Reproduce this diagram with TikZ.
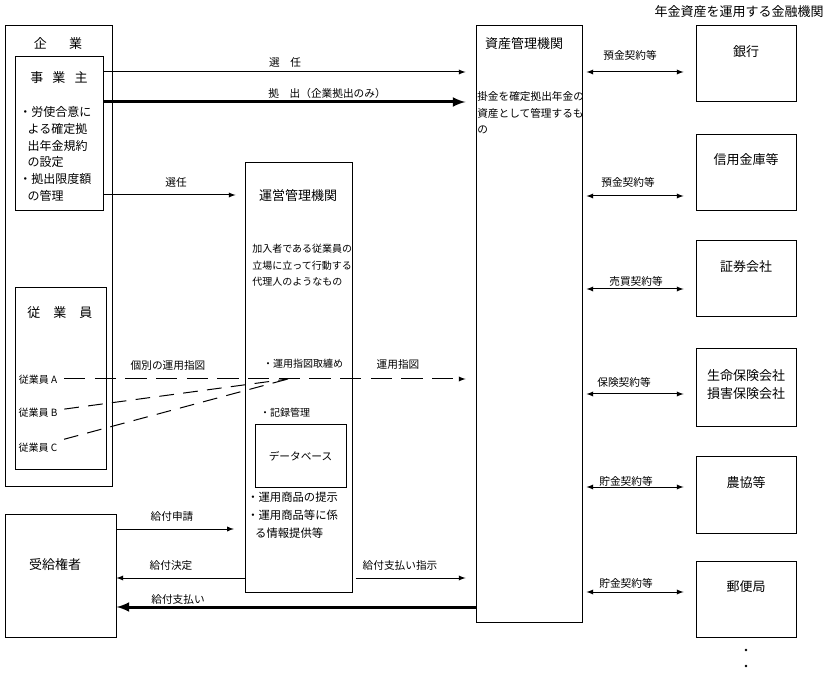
\documentclass[tikz,border=0pt]{standalone}
\usepackage{fontspec}
\setmainfont{Noto Sans CJK JP}
\usetikzlibrary{shapes,arrows,positioning,calc}

\begin{document}
\begin{tikzpicture}[x=0.75pt, y=-0.75pt,
    box/.style={rectangle, draw=black, line width=0.75pt, inner sep=0pt},
    head/.style={font=\fontsize{9.75}{13.5}\selectfont, inner sep=0pt, align=center},
    body/.style={font=\fontsize{9}{12.6}\selectfont, align=left, inner sep=0pt},
    smallbody/.style={font=\fontsize{7.5}{12.4}\selectfont, align=left, inner sep=0pt},
    lbl/.style={font=\fontsize{8}{10}\selectfont, inner sep=0pt},
    arrow/.style={->, >=latex, line width=0.75pt},
    fatarrow/.style={->, >=latex, line width=2.25pt},
    twoway/.style={<->, >=latex, line width=0.75pt},
    longdash/.style={dash pattern=on 16pt off 7pt, line width=0.75pt},
    shortdash/.style={dash pattern=on 11pt off 7pt, line width=0.75pt}]

\useasboundingbox (0,0) rectangle (829,677);

% Company with employer and employees
\node[box, minimum width=80.25pt, minimum height=345pt] (corp) at (58.5,256) {};
\node[head] (corptitle) at (58,44) {企\hspace{1.7em}業};
\node[box, minimum width=66pt, minimum height=115.5pt] (owner) at (59,134) {};
\node[head] (ownertitle) at (59,78) {事\hspace{0.7em}業\hspace{0.7em}主};
\node[body, anchor=west] (ownertxt) at (19,154) {
    ・労使合意に\\
    \hspace{0.7em}よる確定拠\\
    \hspace{0.7em}出年金規約\\
    \hspace{0.7em}の設定\\
    ・拠出限度額\\
    \hspace{0.7em}の管理
};
\node[box, minimum width=68.25pt, minimum height=136.5pt] (staff) at (60.5,379) {};
\node[head] (stafftitle) at (60,313) {従\hspace{1em}業\hspace{1em}員};
\node[smallbody] (empA) at (38,380) {従業員 A};
\node[smallbody] (empB) at (38,413) {従業員 B};
\node[smallbody] (empC) at (38,448) {従業員 C};

% Record keeper
\node[box, minimum width=80.25pt, minimum height=321.75pt] (admin) at (298.5,377.5) {};
\node[head] (admintitle) at (298,196) {運営管理機関};
\node[smallbody, anchor=west] (admintxt) at (252,265.5) {
    加入者である従業員の\\
    立場に立って行動する\\
    代理人のようなもの
};
\node[smallbody] (collect) at (303,364) {・運用指図取纏め};
\node[smallbody] (records) at (285,413) {・記録管理};
\node[box, minimum width=68.25pt, minimum height=46.5pt, font=\fontsize{8}{10}\selectfont] (db) at (300.5,456) {データベース};
\node[body, anchor=west, font=\fontsize{8.5}{13.5}\selectfont] (info) at (247,515) {
    ・運用商品の提示\\
    ・運用商品等に係\\
    \hspace{0.7em}る情報提供等
};

% Asset custodian
\node[box, minimum width=79.5pt, minimum height=447pt] (custody) at (529,324) {};
\node[head] (custodytitle) at (524,44) {資産管理機関};
\node[smallbody, anchor=west, font=\fontsize{8}{12.4}\selectfont] (custodytxt) at (477,113) {
    掛金を確定拠出年金の\\
    資産として管理するも\\
    の
};

% Beneficiary
\node[box, minimum width=83.25pt, minimum height=92.25pt] (benef) at (60.5,575.5) {};
\node[head] (beneftitle) at (55,565) {受給権者};

% Financial institutions
\node[head] (fintitle) at (739,12) {年金資産を運用する金融機関};
\node[box, minimum width=75pt, minimum height=57pt] (bank) at (746,64) {};
\node[head] at (746,52) {銀行};
\node[box, minimum width=75pt, minimum height=57pt] (shinkin) at (746,172.5) {};
\node[head] at (746,160) {信用金庫等};
\node[box, minimum width=75pt, minimum height=57pt] (sec) at (746,278.5) {};
\node[head] at (746,267) {証券会社};
\node[box, minimum width=75pt, minimum height=58.5pt] (ins) at (746,388) {};
\node[head] at (746,385) {生命保険会社\\損害保険会社};
\node[box, minimum width=75pt, minimum height=57pt] (ja) at (746,495) {};
\node[head] at (746,483) {農協等};
\node[box, minimum width=75pt, minimum height=57pt] (post) at (746,599.5) {};
\node[head] at (746,587) {郵便局};
\fill (746,650) circle (1.1pt);
\fill (746,666) circle (1.1pt);

% Employer to custodian
\draw[arrow, shorten >=7.5pt] (owner.east |- 0,72) -- (custody.west |- 0,72);
\node[lbl] (appoint1) at (285,62) {選\hspace{1em}任};
\draw[fatarrow, shorten >=7.5pt] (owner.east |- 0,102) -- (custody.west |- 0,102);
\node[lbl] (contrib) at (327,93) {拠\hspace{1em}出（企業拠出のみ）};

% Employer to record keeper
\draw[arrow, shorten >=6.75pt] (owner.east |- 0,195) -- (admin.west |- 0,195);
\node[lbl] (appoint2) at (176,182) {選任};

% Investment instructions
\coordinate (merge) at (288,379);
\draw[longdash, ->, >=latex, shorten <=5pt, shorten >=7.5pt] (empA.east |- 0,379) -- (custody.west |- 0,379);
\draw[shortdash, shorten <=5pt] (empB.east |- 0,410) -- (merge);
\draw[shortdash, shorten <=5pt] (empC.east |- 0,441) -- (merge);
\node[lbl] (instr1) at (168,365) {個別の運用指図};
\node[lbl] (instr2) at (398,364) {運用指図};

% Benefits
\draw[arrow, shorten >=8pt] (benef.east |- 0,529) -- (admin.west |- 0,529);
\node[lbl] (claim) at (172,516) {給付申請};
\draw[arrow] (admin.west |- 0,578) -- (benef.east |- 0,578);
\node[lbl] (decide) at (171,565) {給付決定};
\draw[arrow, shorten <=2.25pt, shorten >=7.5pt] (admin.east |- 0,578) -- (custody.west |- 0,578);
\node[lbl] (payorder) at (400,565) {給付支払い指示};
\draw[fatarrow] (custody.west |- 0,607) -- (benef.east |- 0,607);
\node[lbl] (pay) at (178,599) {給付支払い};

% Contracts with financial institutions
\draw[twoway, shorten <=3pt, shorten >=9pt] (custody.east |- 0,72) -- (bank.west |- 0,72);
\node[lbl] at (630,55) {預金契約等};
\draw[twoway, shorten <=3pt, shorten >=9pt] (custody.east |- 0,196) -- (shinkin.west |- 0,196);
\node[lbl] at (628,182) {預金契約等};
\draw[twoway, shorten <=3pt, shorten >=9pt] (custody.east |- 0,289) -- (sec.west |- 0,289);
\node[lbl] at (636,281) {売買契約等};
\draw[twoway, shorten <=3pt, shorten >=9pt] (custody.east |- 0,394) -- (ins.west |- 0,394);
\node[lbl] at (624,382) {保険契約等};
\draw[twoway, shorten <=3pt, shorten >=9pt] (custody.east |- 0,487) -- (ja.west |- 0,487);
\node[lbl] at (626,481) {貯金契約等};
\draw[twoway, shorten <=3pt, shorten >=9pt] (custody.east |- 0,592) -- (post.west |- 0,592);
\node[lbl] at (626,583) {貯金契約等};

\end{tikzpicture}
\end{document}
